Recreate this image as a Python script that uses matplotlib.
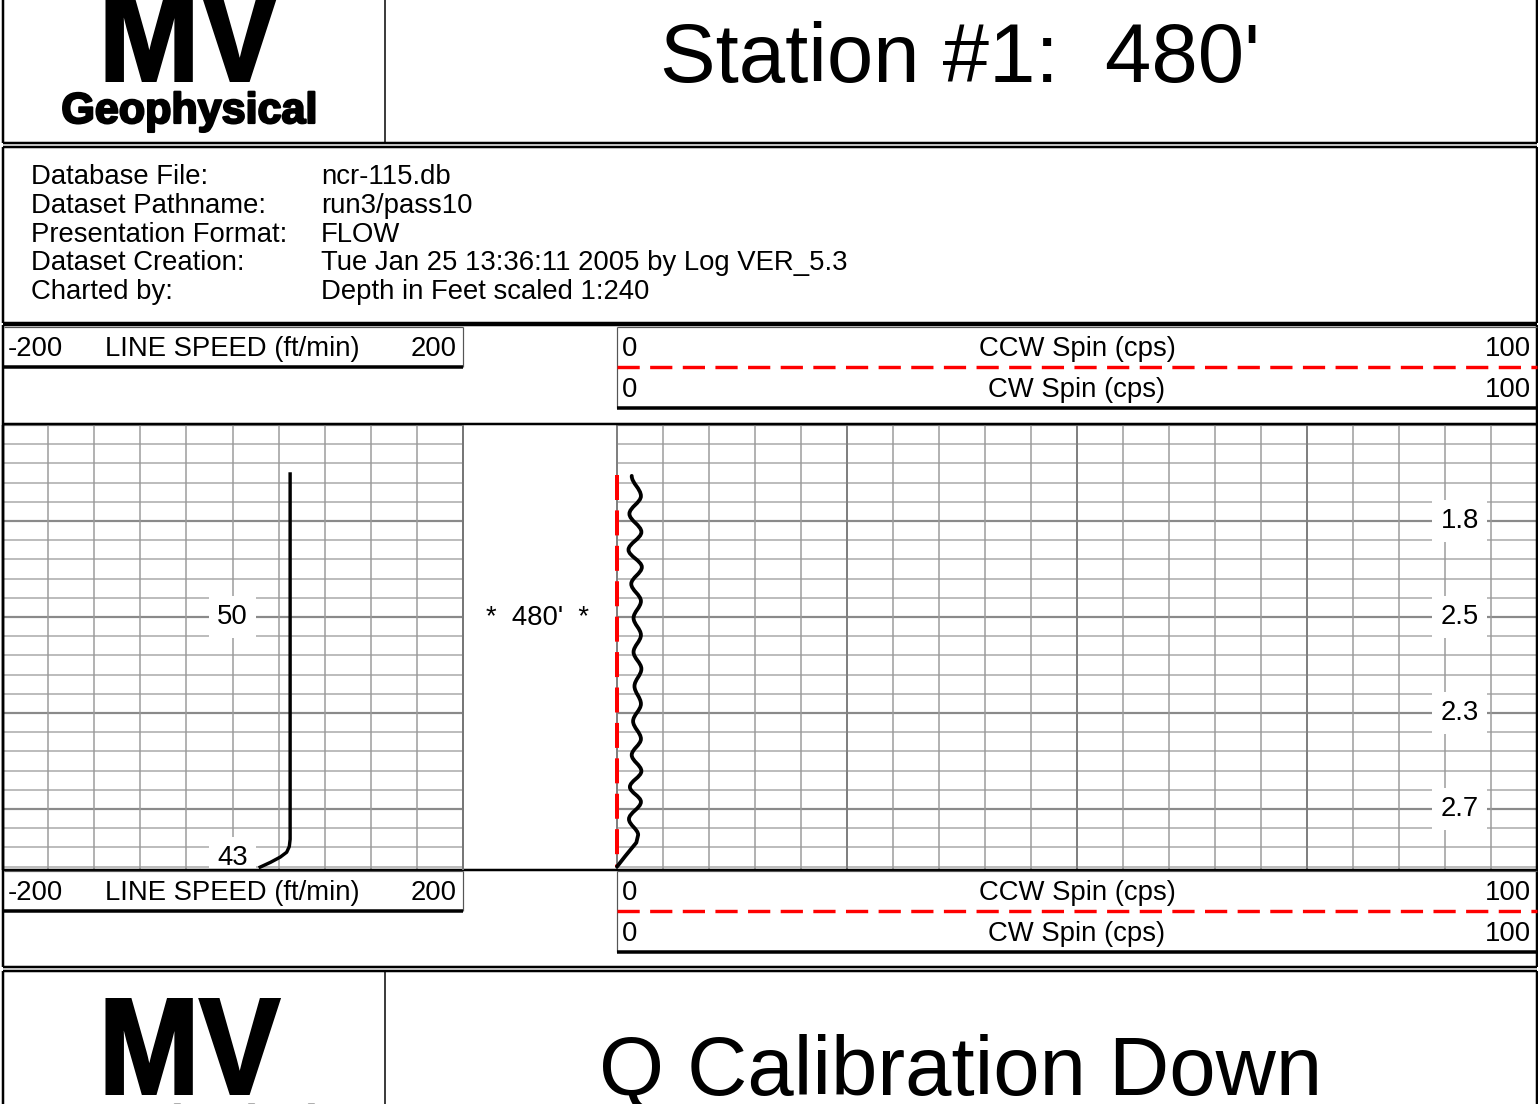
import matplotlib
matplotlib.use('Agg')
import numpy as np
import matplotlib.pyplot as plt
import matplotlib.patheffects as pe
from matplotlib.path import Path
from matplotlib.patches import PathPatch
from matplotlib.textpath import TextPath
from matplotlib.font_manager import FontProperties
from matplotlib.transforms import Affine2D

plt.rcParams['font.family'] = ['Liberation Sans', 'DejaVu Sans']
plt.rcParams['lines.scale_dashes'] = False

W, H = 1538, 1104

info_labels = ["Database File:", "Dataset Pathname:", "Presentation Format:",
               "Dataset Creation:", "Charted by:"]
info_values = ["ncr-115.db", "run3/pass10", "FLOW",
               "Tue Jan 25 13:36:11 2005 by Log VER_5.3",
               "Depth in Feet scaled 1:240"]

station_title = "Station #1:  480'"
pass_title = "Q Calibration Down"
station_depth = 480
depth_top, depth_bot = 440.0, 532.7

speed_name = "LINE SPEED (ft/min)"
speed_range = (-200, 200)
speed_depth = [450.2, 526.3, 527.8, 529.0, 530.0, 531.1, 532.1]
speed_value = [50.0, 50.0, 49.3, 47.0, 41.5, 33.0, 24.0]
speed_labels = ["50", "43"]
speed_label_depth = [480, 530.2]

ccw_name = "CCW Spin (cps)"
cw_name = "CW Spin (cps)"
spin_range = (0, 100)
ccw_depth = [450.4, 532.0]
ccw_value = [0.0, 0.0]

# wiggle extremes, then the tail down to zero
cw_depth = [450.6, 454.8, 458.5, 462.3, 466.0, 469.6, 473.1, 476.7, 480.2, 483.75,
            487.3, 490.8, 494.4, 498.1, 501.7, 505.4, 508.75, 512.1, 515.4, 518.5,
            522.1, 525.4, 527.0, 529.8, 532.0]
cw_value = [1.6, 2.6, 1.35, 2.65, 1.25, 2.7, 1.55, 2.6, 1.8, 2.6,
            1.8, 2.65, 1.9, 2.6, 1.75, 2.6, 1.6, 2.65, 1.4, 2.6,
            1.3, 2.3, 2.1, 0.9, 0.0]
cw_n_wave = 22
cw_labels = ["1.8", "2.5", "2.3", "2.7"]
cw_label_depth = [460, 480, 500, 520]

fig = plt.figure(figsize=(W / 100, H / 100), dpi=100)
fig.patch.set_facecolor('white')

ax0 = fig.add_axes([0, 0, 1, 1], zorder=5)
ax0.set_xlim(0, W)
ax0.set_ylim(H, 0)
ax0.axis('off')
ax0.patch.set_visible(False)

FS = 19.8


def px(v):
    return v * 0.72


def hline(x0, x1, y, lw=2, color='k', **kw):
    ax0.plot([x0, x1], [y, y], lw=px(lw), color=color, solid_capstyle='butt', **kw)


def vline(x, y0, y1, lw=2, color='k', **kw):
    ax0.plot([x, x], [y0, y1], lw=px(lw), color=color, solid_capstyle='butt', **kw)


def box(x0, y0, x1, y1, lw=2.5, color='k'):
    hline(x0, x1, y0, lw, color)
    hline(x0, x1, y1, lw, color)
    vline(x0, y0, y1, lw, color)
    vline(x1, y0, y1, lw, color)


def logo(ytop, ybot, geo_base):
    tp = TextPath((0, 0), "MV", size=100,
                  prop=FontProperties(family='Liberation Sans', weight='bold'))
    ext = tp.get_extents()
    x0, x1 = 107, 279
    ytop, ybot = ytop + 1.5, ybot - 1.5
    tr = (Affine2D().translate(-ext.x0, -ext.y0)
          .scale((x1 - x0) / ext.width, -(ybot - ytop) / ext.height)
          .translate(x0, ybot))
    ax0.add_patch(PathPatch(tr.transform_path(tp), fc='k', ec='k', lw=px(3)))
    ax0.text(189, geo_base, "Geophysical", fontsize=31, fontweight='bold',
             ha='center', va='baseline',
             path_effects=[pe.withStroke(linewidth=1.6, foreground='k')])


# ---- header blocks ----
box(3, -5, 1537, 143)
vline(385, -5, 143, lw=1.5)
logo(-15, 82, 123)
ax0.text(960, 82, station_title, fontsize=60, ha='center', va='baseline')

box(3, 147, 1537, 323)
for i, (lab, val) in enumerate(zip(info_labels, info_values)):
    y = 177 + i * 28.8
    ax0.text(31, y, lab, fontsize=FS, va='center')
    ax0.text(321, y, val, fontsize=FS, va='center')

box(3, 325, 1537, 424)
box(3, 870, 1537, 967)
vline(3, 424, 870, lw=2.5)
vline(1537, 424, 870, lw=2.5)

box(3, 971, 1537, 1110)
vline(385, 971, 1110, lw=1.5)
logo(998, 1095, 1136)
ax0.text(961, 1095, pass_title, fontsize=60, ha='center', va='baseline')


def track_header(y_top, y_line):
    # line speed scale
    hline(4, 463, y_top, lw=1.2, color='#555555')
    vline(463, y_top, y_line, lw=1.2, color='#555555')
    hline(4, 463, y_line, lw=3.5)
    ty = (y_top + y_line) / 2 + 2
    ax0.text(8, ty, str(speed_range[0]), fontsize=FS, va='center')
    ax0.text(232, ty, speed_name, fontsize=FS, va='center', ha='center')
    ax0.text(457, ty, str(speed_range[1]), fontsize=FS, va='center', ha='right')
    # spin scales
    vline(617, y_top, y_line + 41, lw=1.2, color='#555555')
    hline(617, 1537, y_top, lw=1.2, color='#555555')
    ax0.text(622, ty, str(spin_range[0]), fontsize=FS, va='center')
    ax0.text(1077, ty, ccw_name, fontsize=FS, va='center', ha='center')
    ax0.text(1531, ty, str(spin_range[1]), fontsize=FS, va='center', ha='right')
    hline(617, 1537, y_line, lw=3.4, color='#ff0000', linestyle=(0, (16, 7.5)))
    ty2 = y_line + 23
    ax0.text(622, ty2, str(spin_range[0]), fontsize=FS, va='center')
    ax0.text(1077, ty2, cw_name, fontsize=FS, va='center', ha='center')
    ax0.text(1531, ty2, str(spin_range[1]), fontsize=FS, va='center', ha='right')
    hline(617, 1537, y_line + 41, lw=3.5)


track_header(327, 367)
track_header(871, 911)

ax0.text(537, 618, "*  480'  *", fontsize=FS, ha='center', va='center')

label_box = dict(boxstyle='square,pad=0.3', fc='white', ec='none')


# ---- tracks ----
def track_axes(x0, x1):
    ax = fig.add_axes([x0 / W, (H - 870) / H, (x1 - x0) / W, 445 / H], zorder=2)
    ax.set_ylim(depth_bot, depth_top)
    ax.set_xticks([])
    ax.set_yticks([])
    for s in ax.spines.values():
        s.set_visible(False)
    for d in np.arange(440, 533, 4):
        major = d % 20 == 0
        ax.axhline(d, color='#8a8a8a' if major else '#bdbdbd',
                   lw=px(2.2 if major else 2.0), zorder=0)
    return ax


axL = track_axes(2, 463)
axL.set_xlim(*speed_range)
for v in np.arange(-200, 201, 40):
    axL.axvline(v, color='#9a9a9a', lw=px(1.5), zorder=0)
axL.plot(speed_value, speed_depth, color='k', lw=px(3.4), solid_joinstyle='round')
for lab, d in zip(speed_labels, speed_label_depth):
    axL.text(0, d, lab, fontsize=FS, ha='center', va='center', bbox=label_box)

axR = track_axes(617, 1537)
axR.set_xlim(*spin_range)
for v in np.arange(0, 101, 5):
    major = v % 25 == 0
    axR.axvline(v, color='#808080' if major else '#9a9a9a',
                lw=px(2 if major else 1.5), zorder=0, clip_on=False)
axR.plot(ccw_value, ccw_depth, color='#ff0000', lw=px(4),
         linestyle=(0, (18, 7.5)), clip_on=False, zorder=3)

verts = [(cw_value[0], cw_depth[0])]
codes = [Path.MOVETO]
for i in range(1, cw_n_wave):
    d0, v0 = cw_depth[i - 1], cw_value[i - 1]
    d1, v1 = cw_depth[i], cw_value[i]
    h = d1 - d0
    verts += [(v0, d0 + 0.36 * h), (v1, d1 - 0.36 * h), (v1, d1)]
    codes += [Path.CURVE4] * 3
for i in range(cw_n_wave, len(cw_depth)):
    verts.append((cw_value[i], cw_depth[i]))
    codes.append(Path.LINETO)
axR.add_patch(PathPatch(Path(verts, codes), fc='none', ec='k', lw=px(3.8),
                        capstyle='round', joinstyle='round', zorder=4, clip_on=False))
for lab, d in zip(cw_labels, cw_label_depth):
    axR.text(91.6, d, lab, fontsize=FS, ha='center', va='center', bbox=label_box)

# track edges
vline(3, 425, 870, lw=2.5)
vline(463, 425, 870, lw=2, color='#777777')

fig.savefig('out.png', dpi=100)
